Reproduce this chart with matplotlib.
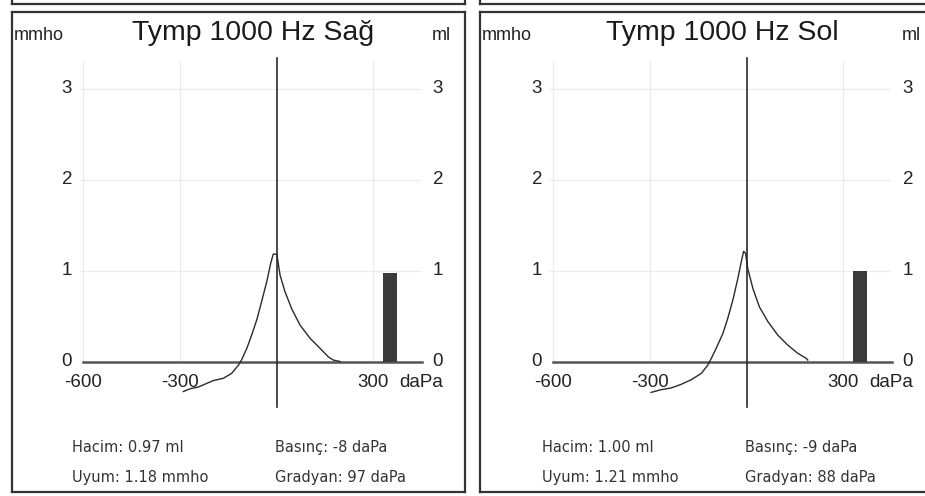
import matplotlib
matplotlib.use("Agg")
import matplotlib.pyplot as plt

plt.rcParams['font.family'] = ['Liberation Sans', 'DejaVu Sans']

# tympanogram curves (daPa, mmho)
sag_x = [-289, -268, -242, -216, -196, -165, -139, -118, -108, -92, -77, -61, -46,
         -30, -18, -10, 1, 11, 26, 47, 73, 104, 135, 161, 176, 197]
sag_y = [-0.33, -0.30, -0.28, -0.24, -0.21, -0.185, -0.13, -0.04, 0.02, 0.145, 0.29,
         0.46, 0.66, 0.88, 1.08, 1.18, 1.18, 0.95, 0.77, 0.58, 0.40, 0.255, 0.145,
         0.05, 0.016, 0.0]

sol_x = [-296, -265, -233, -202, -171, -140, -120, -109, -94, -73, -58, -42, -27,
         -16, -9, -3, 4, 20, 40, 66, 97, 128, 159, 185, 190]
sol_y = [-0.34, -0.31, -0.29, -0.25, -0.20, -0.13, -0.04, 0.035, 0.145, 0.31, 0.475,
         0.68, 0.91, 1.10, 1.21, 1.19, 1.02, 0.80, 0.60, 0.44, 0.29, 0.18, 0.09,
         0.035, 0.016]

titles = ["Tymp 1000 Hz Sağ", "Tymp 1000 Hz Sol"]
volumes = [0.97, 1.00]
info_left = [["Hacim: 0.97 ml", "Uyum: 1.18 mmho"], ["Hacim: 1.00 ml", "Uyum: 1.21 mmho"]]
info_right = [["Basınç: -8 daPa", "Gradyan: 97 daPa"], ["Basınç: -9 daPa", "Gradyan: 88 daPa"]]
y_ticks = [0, 1, 2, 3]
x_ticks = [-600, -300, 300]
bar_pos = 352
bar_width = 43

W, H = 925, 496
fig = plt.figure(figsize=(W / 100, H / 100), dpi=100)

# pixel layout of the two boxes: (box left px, zero-pressure px)
boxes = [(12, 276.5), (480, 746.5)]
px_per_dapa = 0.3225
px_per_unit = 91
zero_px = 361.5
box_top, box_bot, box_w = 12, 492, 453

curves = [(sag_x, sag_y), (sol_x, sol_y)]
line_col = '#2a2a2a'
txt_col = '#222222'

for i, (bx, x0) in enumerate(boxes):
    ax = fig.add_axes([bx / W, (H - box_bot) / H, box_w / W, (box_bot - box_top) / H])
    ax.set_xlim((bx - x0) / px_per_dapa, (bx + box_w - x0) / px_per_dapa)
    ax.set_ylim((zero_px - box_bot) / px_per_unit, (zero_px - box_top) / px_per_unit)
    ax.set_xticks([])
    ax.set_yticks([])
    for s in ax.spines.values():
        s.set_color('#333333')
        s.set_linewidth(1.6)

    # grid
    for yv in y_ticks[1:]:
        ax.plot([-608, 445], [yv, yv], color='#ebebeb', lw=0.9, zorder=1)
    for xv in [-600, -300, 300]:
        ax.plot([xv, xv], [0, 3.3], color='#ebebeb', lw=0.9, zorder=1)

    # baseline and centre line
    ax.plot([-600, 450], [0, 0], color='#555555', lw=1.8, zorder=2)
    ax.plot([0, 0], [-0.5, 3.33], color=line_col, lw=1.2, zorder=3)

    # volume bar
    ax.bar([bar_pos], [volumes[i]], width=bar_width, color='#3a3a3a', zorder=3)

    # curve
    cx, cy = curves[i]
    ax.plot(cx, cy, color=line_col, lw=1.0, zorder=4)

    # axis labels
    for yv in y_ticks:
        ax.text(-650, yv, str(yv), ha='center', va='center', fontsize=13.5, color=txt_col)
        ax.text(500, yv, str(yv), ha='center', va='center', fontsize=13.5, color=txt_col)
    for xv in x_ticks:
        ax.text(xv, -0.23, str(xv), ha='center', va='center', fontsize=13.5, color=txt_col)
    ax.text(380, -0.23, "daPa", ha='left', va='center', fontsize=13.5, color=txt_col)

    ax.text(-74, 3.61, titles[i], ha='center', va='center', fontsize=20.5, color='#1a1a1a')
    ax.text((bx + 1.5 - x0) / px_per_dapa, 3.58, "mmho", ha='left', va='center',
            fontsize=13, color=txt_col)
    ax.text(512, 3.58, "ml", ha='center', va='center', fontsize=13, color=txt_col)

    # readouts
    for j, yv in enumerate([-0.95, -1.28]):
        ax.text(-634, yv, info_left[i][j], ha='left', va='center', fontsize=10.5,
                family='DejaVu Sans', color='#333333')
        ax.text(-5, yv, info_right[i][j], ha='left', va='center', fontsize=10.5,
                family='DejaVu Sans', color='#333333')

    # bottom edge of the boxes above, cut off by the scan
    top = fig.add_axes([bx / W, (H - 3.5) / H, (box_w if i == 0 else W - bx + 10) / W, 20 / H])
    top.set_xticks([])
    top.set_yticks([])
    top.patch.set_alpha(0)
    for s in top.spines.values():
        s.set_color('#333333')
        s.set_linewidth(1.6)

fig.savefig("out.png", dpi=100)
